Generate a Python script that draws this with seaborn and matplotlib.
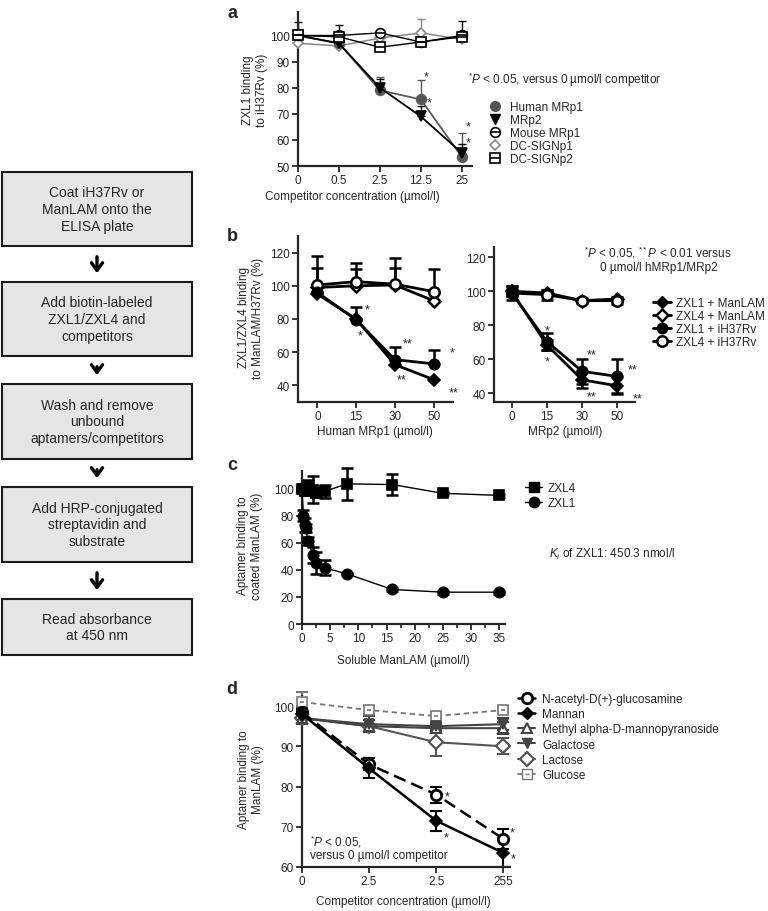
import numpy as np
import matplotlib.pyplot as plt
import seaborn as sns
from matplotlib.lines import Line2D
from matplotlib.patches import Rectangle
from matplotlib.ticker import MultipleLocator

# ==============================
# DATA
# ==============================
# panel a - competitor peptides vs ZXL1 binding to iH37Rv
a_labels = ['0', '0.5', '2.5', '12.5', '25']
a_human_mrp1 = [100, 97, 79, 75.5, 53.5]
a_human_mrp1_err = [0, 3, 5, 7.5, 9]
a_mrp2 = [100, 97, 80, 69, 55]
a_mrp2_err = [0, 2, 3.5, 4, 3.5]
a_mouse_mrp1 = [100, 100, 101, 97.5, 100]
a_mouse_mrp1_err = [2, 4, 1, 1, 5.5]
a_dcsign1 = [97, 96, 99, 101, 98.5]
a_dcsign1_err = [1, 1, 1.5, 5.5, 1]
a_dcsign2 = [100, 99.5, 95.5, 97.5, 99.5]
a_dcsign2_err = [5, 1.5, 1, 1.5, 1]

# panel b - left: human MRp1, right: MRp2
b_labels = ['0', '15', '30', '50']
b1_zxl1_manlam = [95, 80, 52.5, 43.5]
b1_zxl4_manlam = [99, 100, 100.5, 91]
b1_zxl1_ih37rv = [96, 79.5, 55.5, 53]
b1_zxl4_ih37rv = [100.5, 102.5, 101, 96.5]
b1_zxl1_ih37rv_err = [0, 7.5, 7.5, 8.5]
b1_zxl4_manlam_err = [12, 10, 10, 0]
b1_zxl4_ih37rv_err = [17.5, 11, 16, 13.5]

b2_zxl1_manlam = [100, 68.5, 48, 44.5]
b2_zxl1_manlam_err = [2, 3, 5, 5]
b2_zxl4_manlam = [100, 99, 94.5, 95.5]
b2_zxl4_manlam_err = [3, 2, 1, 1]
b2_zxl1_ih37rv = [99, 70.5, 53, 50]
b2_zxl1_ih37rv_err = [4, 5, 7.5, 10]
b2_zxl4_ih37rv = [99, 98, 94.5, 94.5]
b2_zxl4_ih37rv_err = [2, 3, 1.5, 2]

# panel c - soluble ManLAM
c_zxl4_x = [0, 0.25, 0.5, 1, 2, 2.5, 4, 8, 16, 25, 35]
c_zxl4 = [100, 100, 98, 101, 99, 97, 98, 103.5, 103, 96.5, 95]
c_zxl4_err = [2, 2, 3, 5, 10, 3, 5, 12, 7.5, 1, 1]
c_zxl1_x = [0, 0.25, 0.5, 0.75, 1, 2, 2.5, 4, 8, 16, 25, 35]
c_zxl1 = [100, 80, 73, 71, 61.5, 51, 45, 41.5, 37, 25.5, 23.5, 23.5]
c_zxl1_err = [1, 4, 5, 3, 3, 6, 8, 5.5, 1, 1, 1, 1]

# panel d - sugars
d_labels = ['0', '2.5', '2.5', '255']
d_glcnac = [98.5, 85.5, 78, 67]
d_glcnac_err = [1, 1.5, 2, 2.5]
d_mannan = [98, 84.5, 71.5, 63.5]
d_mannan_err = [1, 2.5, 2.5, 3.5]
d_methyl = [97, 95, 94.5, 94.5]
d_methyl_err = [1.5, 1.5, 1, 1.5]
d_galactose = [97, 95.5, 95, 95.5]
d_galactose_err = [1.5, 2, 1, 1.5]
d_lactose = [97, 95, 91, 90]
d_lactose_err = [1.5, 1.5, 3.5, 2]
d_glucose = [101, 99, 97.5, 99]
d_glucose_err = [2.5, 1, 0.5, 0.5]

# flowchart steps
steps = ["Coat iH37Rv or\nManLAM onto the\nELISA plate",
         "Add biotin-labeled\nZXL1/ZXL4 and\ncompetitors",
         "Wash and remove\nunbound\naptamers/competitors",
         "Add HRP-conjugated\nstreptavidin and\nsubstrate",
         "Read absorbance\nat 450 nm"]

# ==============================
# STYLE
# ==============================
sns.set_style('ticks')
plt.rcParams['font.family'] = ['Liberation Sans', 'DejaVu Sans']
plt.rcParams['mathtext.fontset'] = 'custom'
plt.rcParams['mathtext.rm'] = 'Liberation Sans'
plt.rcParams['mathtext.it'] = 'Liberation Sans:italic'
FS = 8.5

W, H = 768, 912
fig = plt.figure(figsize=(W / 100, H / 100), dpi=100)

# overlay axes in pixel coordinates for the flowchart and free text
ov = fig.add_axes([0, 0, 1, 1], zorder=10)
ov.set_xlim(0, W)
ov.set_ylim(H, 0)
ov.axis('off')


def px_axes(l, t, r, b):
    ax = fig.add_axes([l / W, 1 - b / H, (r - l) / W, (b - t) / H])
    ax.patch.set_visible(False)
    sns.despine(ax=ax)
    for s in ['left', 'bottom']:
        ax.spines[s].set_linewidth(1.6)
    ax.tick_params(length=4, width=1.3, labelsize=FS, pad=2)
    return ax


def line(ax, x, y, color, marker, ms, mfc, lw, ls='-', mew=1.2, z=3):
    sns.lineplot(x=x, y=y, ax=ax, color=color, marker=marker, markersize=ms,
                 markerfacecolor=mfc, markeredgecolor=color, markeredgewidth=mew,
                 linewidth=lw, linestyle=ls, errorbar=None, clip_on=False, zorder=z)


def err(ax, x, y, e, color, upper_only=False, lw=1.2, cap=3):
    e = np.array(e, dtype=float)
    lo = np.zeros_like(e) if upper_only else e
    ax.errorbar(x, y, yerr=[lo, e], fmt='none', ecolor=color, elinewidth=lw,
                capsize=cap, capthick=lw, clip_on=False, zorder=2)


def star(ax, x, y, s='*'):
    ax.text(x, y, s, fontsize=9, ha='center', va='center')


# ==============================
# FLOWCHART
# ==============================
boxes = [(173, 247), (283, 357), (385, 460), (488, 563), (600, 656)]
for (top, bot), txt in zip(boxes, steps):
    ov.add_patch(Rectangle((2, top), 190, bot - top, facecolor='#e5e5e5',
                           edgecolor='#1a1a1a', lw=1.5))
    ov.text(97, (top + bot) / 2, txt, ha='center', va='center', fontsize=10,
            linespacing=1.25)
for (t0, b0), (t1, b1) in zip(boxes[:-1], boxes[1:]):
    ov.annotate('', xy=(97, t1 - 6), xytext=(97, b0 + 8),
                arrowprops=dict(arrowstyle='->,head_width=0.4,head_length=0.55',
                                lw=2.4, color='black'))

# ==============================
# PANEL A
# ==============================
ax = px_axes(298, 13, 472, 167)
pa = np.arange(len(a_labels))
err(ax, pa, a_dcsign1, a_dcsign1_err, '#888888', True, 1)
err(ax, pa, a_human_mrp1, a_human_mrp1_err, '#555555', True, 1)
err(ax, pa, a_mrp2, a_mrp2_err, 'black', True, 1)
err(ax, pa, a_mouse_mrp1, a_mouse_mrp1_err, 'black', True, 1)
err(ax, pa, a_dcsign2, a_dcsign2_err, 'black', True, 1)
line(ax, pa, a_dcsign1, '#888888', 'D', 5.5, 'white', 1.1)
line(ax, pa, a_human_mrp1, '#5a5a5a', 'o', 7, '#555555', 1.3)
line(ax, pa, a_mrp2, 'black', 'v', 7, 'black', 1.3)
line(ax, pa, a_mouse_mrp1, 'black', 'o', 7, 'white', 1.0)
line(ax, pa, a_mouse_mrp1, 'black', '_', 7, 'white', 0, z=4)
line(ax, pa, a_dcsign2, 'black', 's', 6.5, 'white', 1.0)
line(ax, pa, a_dcsign2, 'black', '_', 6.5, 'white', 0, z=4)
ax.set_xlim(0, 4.25)
ax.set_ylim(50, 109)
ax.set_xticks(pa, a_labels)
ax.set_yticks(range(50, 101, 10))
star(ax, 3.12, 84.5)
star(ax, 3.2, 74.5)
star(ax, 4.15, 65)
star(ax, 4.15, 59)
ha = [Line2D([], [], ls='none', marker='o', ms=7, mfc='#555555', mec='#555555'),
      Line2D([], [], ls='none', marker='v', ms=7, mfc='black', mec='black'),
      (Line2D([], [], ls='none', marker='o', ms=7, mfc='white', mec='black', mew=1.2),
       Line2D([], [], ls='none', marker='_', ms=7, mec='black', mew=1.2)),
      Line2D([], [], ls='none', marker='D', ms=5.5, mfc='white', mec='#888888', mew=1.2),
      (Line2D([], [], ls='none', marker='s', ms=6.5, mfc='white', mec='black', mew=1.2),
       Line2D([], [], ls='none', marker='_', ms=6.5, mec='black', mew=1.2))]
ax.legend(ha, ['Human MRp1', 'MRp2', 'Mouse MRp1', 'DC-SIGNp1', 'DC-SIGNp2'],
          loc='upper left', bbox_to_anchor=(489 / W, 1 - 102 / H),
          bbox_transform=fig.transFigure, frameon=False, fontsize=FS,
          handlelength=1.0, handletextpad=0.75, labelspacing=0.08,
          borderpad=0, borderaxespad=0)
ov.text(468, 80, r"$^{*}\mathit{P}$ < 0.05, versus 0 µmol/l competitor",
        fontsize=FS, ha='left', va='center')
ov.text(255, 90, "ZXL1 binding\nto iH37Rv (%)", rotation=90, ha='center',
        va='center', fontsize=FS, linespacing=1.15)
ov.text(352, 197, "Competitor concentration (µmol/l)", ha='center', va='center',
        fontsize=FS)
ov.text(232, 13, 'a', fontsize=13, fontweight='bold', ha='center', va='center')

# ==============================
# PANEL B
# ==============================
pb = np.arange(len(b_labels))
ax = px_axes(298, 237, 453, 403)
err(ax, pb, b1_zxl4_ih37rv, b1_zxl4_ih37rv_err, 'black', True, 1.8, 4)
err(ax, pb, b1_zxl4_manlam, b1_zxl4_manlam_err, 'black', True, 1.8, 4)
err(ax, pb, b1_zxl1_ih37rv, b1_zxl1_ih37rv_err, 'black', True, 1.8, 4)
line(ax, pb, b1_zxl4_manlam, 'black', 'D', 6, 'white', 2, mew=1.8)
line(ax, pb, b1_zxl4_ih37rv, 'black', 'o', 7.5, 'white', 2, mew=1.8)
line(ax, pb, b1_zxl1_manlam, 'black', 'D', 6.5, 'black', 2)
line(ax, pb, b1_zxl1_ih37rv, 'black', 'o', 7.5, 'black', 2)
ax.set_xlim(-0.5, 3.5)
ax.set_ylim(30, 130)
ax.set_xticks(pb, b_labels)
ax.set_yticks(range(40, 121, 20))
star(ax, 1.28, 86)
star(ax, 1.1, 70)
star(ax, 2.34, 65, '**')
star(ax, 2.18, 43.5, '**')
star(ax, 3.47, 60)
star(ax, 3.52, 36, '**')
ov.text(251, 318, "ZXL1/ZXL4 binding\nto ManLAM/H37Rv (%)", rotation=90,
        ha='center', va='center', fontsize=FS, linespacing=1.15)
ov.text(375, 432, "Human MRp1 (µmol/l)", ha='center', va='center', fontsize=FS)
ov.text(232, 237, 'b', fontsize=13, fontweight='bold', ha='center', va='center')

ax = px_axes(494, 248, 635, 403)
err(ax, pb, b2_zxl4_ih37rv, b2_zxl4_ih37rv_err, 'black', False, 1.8, 4)
err(ax, pb, b2_zxl4_manlam, b2_zxl4_manlam_err, 'black', False, 1.8, 4)
err(ax, pb, b2_zxl1_ih37rv, b2_zxl1_ih37rv_err, 'black', False, 1.8, 4)
err(ax, pb, b2_zxl1_manlam, b2_zxl1_manlam_err, 'black', False, 1.8, 4)
line(ax, pb, b2_zxl4_manlam, 'black', 'D', 6, 'white', 2, mew=1.8)
line(ax, pb, b2_zxl4_ih37rv, 'black', 'o', 7.5, 'white', 2, mew=1.8)
line(ax, pb, b2_zxl1_manlam, 'black', 'D', 6.5, 'black', 2)
line(ax, pb, b2_zxl1_ih37rv, 'black', 'o', 7.5, 'black', 2)
ax.set_xlim(-0.5, 3.5)
ax.set_ylim(35, 126)
ax.set_xticks(pb, b_labels)
ax.set_yticks(range(40, 121, 20))
star(ax, 1.0, 77)
star(ax, 1.0, 59)
star(ax, 2.28, 63, '**')
star(ax, 2.28, 38, '**')
star(ax, 3.42, 54, '**')
star(ax, 3.58, 37, '**')
hb = [Line2D([], [], color='black', lw=2, marker='D', ms=6.5, mfc='black'),
      Line2D([], [], color='black', lw=2, marker='D', ms=6.5, mfc='white', mew=1.8),
      Line2D([], [], color='black', lw=2, marker='o', ms=7.5, mfc='black'),
      Line2D([], [], color='black', lw=2, marker='o', ms=7.5, mfc='white', mew=1.8)]
ax.legend(hb, ['ZXL1 + ManLAM', 'ZXL4 + ManLAM', 'ZXL1 + iH37Rv', 'ZXL4 + iH37Rv'],
          loc='upper left', bbox_to_anchor=(653 / W, 1 - 298 / H),
          bbox_transform=fig.transFigure, frameon=False, fontsize=FS,
          handlelength=1.5, handletextpad=0.45, labelspacing=0.08,
          borderpad=0, borderaxespad=0)
ov.text(658, 253, r"$^{*}\mathit{P}$ < 0.05, $^{**}\mathit{P}$ < 0.01 versus",
        ha='center', va='center', fontsize=FS)
ov.text(659, 268, "0 µmol/l hMRp1/MRp2", ha='center', va='center', fontsize=FS)
ov.text(565, 432, "MRp2 (µmol/l)", ha='center', va='center', fontsize=FS)

# ==============================
# PANEL C
# ==============================
ax = px_axes(302, 472, 505, 625)
err(ax, c_zxl4_x, c_zxl4, c_zxl4_err, 'black', False, 1.8, 4)
err(ax, c_zxl1_x, c_zxl1, c_zxl1_err, 'black', False, 1.8, 4)
line(ax, c_zxl4_x, c_zxl4, 'black', 's', 7, 'black', 1)
line(ax, c_zxl1_x, c_zxl1, 'black', 'o', 7.5, 'black', 1)
ax.set_xlim(0, 36)
ax.set_ylim(0, 113)
ax.set_xticks(range(0, 36, 5))
ax.xaxis.set_minor_locator(MultipleLocator(2.5))
ax.tick_params(which='minor', length=3, width=1.2)
ax.set_yticks(range(0, 101, 20))
hc = [Line2D([], [], color='black', lw=1, marker='s', ms=7, mfc='black'),
      Line2D([], [], color='black', lw=1, marker='o', ms=7.5, mfc='black')]
ax.legend(hc, ['ZXL4', 'ZXL1'], loc='upper left',
          bbox_to_anchor=(525 / W, 1 - 483 / H), bbox_transform=fig.transFigure,
          frameon=False, fontsize=FS, handlelength=1.45, handletextpad=0.5,
          labelspacing=0.24, borderpad=0, borderaxespad=0)
ov.text(549, 554, r"$\mathit{K}_{\mathit{i}}$ of ZXL1: 450.3 nmol/l", ha='left',
        va='center', fontsize=FS)
ov.text(250, 546, "Aptamer binding to\ncoated ManLAM (%)", rotation=90,
        ha='center', va='center', fontsize=FS, linespacing=1.15)
ov.text(403, 661, "Soluble ManLAM (µmol/l)", ha='center', va='center', fontsize=FS)
ov.text(232, 466, 'c', fontsize=13, fontweight='bold', ha='center', va='center')

# ==============================
# PANEL D
# ==============================
pd_ = np.arange(len(d_labels))
ax = px_axes(302, 697, 510, 868)
err(ax, pd_, d_glucose, d_glucose_err, '#777777', False, 1.5, 4)
err(ax, pd_, d_lactose, d_lactose_err, '#555555', False, 1.5, 4)
err(ax, pd_, d_methyl, d_methyl_err, '#444444', False, 1.5, 4)
err(ax, pd_, d_galactose, d_galactose_err, '#444444', False, 1.5, 4)
err(ax, pd_, d_glcnac, d_glcnac_err, 'black', False, 1.5, 4)
err(ax, pd_, d_mannan, d_mannan_err, 'black', False, 1.5, 4)
line(ax, pd_, d_glucose, '#777777', 's', 7, 'white', 1.3, (0, (3, 2)))
line(ax, pd_, d_glucose, '#777777', '_', 3, 'white', 0, z=4)
line(ax, pd_, d_lactose, '#555555', 'D', 7, 'white', 1.5, mew=1.6)
line(ax, pd_, d_methyl, '#444444', '^', 7, 'white', 1.5, mew=1.5)
line(ax, pd_, d_galactose, '#444444', 'v', 7, '#444444', 1.5)
line(ax, pd_, d_glcnac, 'black', 'o', 7.5, 'white', 1.8, (0, (5, 2.5)), mew=2)
line(ax, pd_, d_mannan, 'black', 'D', 6.5, 'black', 1.8)
ax.set_xlim(0, 3.1)
ax.set_ylim(60, 102.5)
ax.set_xticks(pd_, d_labels)
ax.set_yticks(range(60, 101, 10))
star(ax, 2.16, 77.6)
star(ax, 2.15, 67.3)
star(ax, 3.13, 68.5)
star(ax, 3.15, 62.2)
hd = [Line2D([], [], color='black', lw=1.8, marker='o', ms=7.5, mfc='white', mew=2),
      Line2D([], [], color='black', lw=1.8, marker='D', ms=6.5, mfc='black'),
      Line2D([], [], color='#444444', lw=1.5, marker='^', ms=7, mfc='white', mew=1.5),
      Line2D([], [], color='#444444', lw=1.5, marker='v', ms=7, mfc='#444444'),
      Line2D([], [], color='#555555', lw=1.5, marker='D', ms=7, mfc='white', mew=1.6),
      (Line2D([], [], color='#777777', lw=1.3, marker='s', ms=7, mfc='white'),
       Line2D([], [], ls='none', marker='_', ms=3, mec='#777777'))]
ax.legend(hd, ['N-acetyl-D(+)-glucosamine', 'Mannan', 'Methyl alpha-D-mannopyranoside',
               'Galactose', 'Lactose', 'Glucose'],
          loc='upper left', bbox_to_anchor=(518 / W, 1 - 694 / H),
          bbox_transform=fig.transFigure, frameon=False, fontsize=FS,
          handlelength=1.45, handletextpad=0.6, labelspacing=0.27,
          borderpad=0, borderaxespad=0)
ov.text(310, 842, r"$^{*}\mathit{P}$ < 0.05,", ha='left', va='center', fontsize=FS)
ov.text(310, 856, "versus 0 µmol/l competitor", ha='left', va='center', fontsize=FS)
ov.text(251, 780, "Aptamer binding to\nManLAM (%)", rotation=90, ha='center',
        va='center', fontsize=FS, linespacing=1.15)
ov.text(403, 902, "Competitor concentration (µmol/l)", ha='center', va='center',
        fontsize=FS)
ov.text(232, 690, 'd', fontsize=13, fontweight='bold', ha='center', va='center')

fig.savefig('out.png', dpi=100)
